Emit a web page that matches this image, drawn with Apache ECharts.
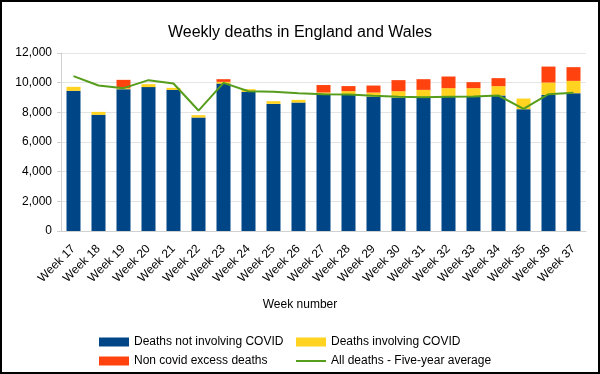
<!DOCTYPE html>
<html>
<head>
<meta charset="utf-8">
<script src="https://cdn.jsdelivr.net/npm/echarts@6/dist/echarts.min.js"></script>
<style>
html,body{margin:0;padding:0;background:#fff;}
#chart{width:600px;height:374px;}
</style>
</head>
<body>
<div id="chart"></div>
<script>
var weeks = ['Week 17','Week 18','Week 19','Week 20','Week 21','Week 22','Week 23','Week 24','Week 25','Week 26','Week 27','Week 28','Week 29','Week 30','Week 31','Week 32','Week 33','Week 34','Week 35','Week 36','Week 37'];
var notCovid = [9450, 7830, 9560, 9700, 9515, 7650, 9945, 9380, 8570, 8660, 9180, 9180, 9065, 9000, 8975, 9045, 9045, 9135, 8215, 9180, 9290];
var covid = [270, 200, 70, 200, 135, 160, 110, 180, 180, 180, 160, 250, 270, 425, 540, 585, 585, 630, 715, 830, 830];
var excess = [0, 0, 560, 0, 0, 0, 180, 0, 0, 0, 500, 340, 470, 745, 720, 785, 405, 540, 0, 1075, 925];
var fiveYearAvg = [10440, 9805, 9630, 10170, 9945, 8120, 9985, 9425, 9380, 9290, 9220, 9200, 9110, 9045, 9020, 9045, 9065, 9135, 8240, 9220, 9315];
var yTicks = {min: 0, max: 12000, step: 2000};

var font = 'Liberation Sans';
var chart = echarts.init(document.getElementById('chart'), null, {renderer: 'canvas'});
function fmt(v){ return String(v).replace(/\B(?=(\d{3})+(?!\d))/g, ','); }
var axisGray = '#d0d0d0';
function legendOf(left, items){
  return {
    orient: 'vertical', left: left, top: 336, height: 38, padding: 0,
    itemWidth: 30, itemHeight: 9, itemGap: 7,
    textStyle: {fontSize: 12, color: '#000', fontFamily: font, lineHeight: 12},
    selectedMode: false, data: items
  };
}
var option = {
  animation: false,
  backgroundColor: '#fff',
  textStyle: {fontFamily: font},
  title: {
    text: 'Weekly deaths in England and Wales', left: 'center', top: 20,
    textStyle: {fontSize: 16, fontWeight: 'normal', color: '#000', fontFamily: font}
  },
  grid: {left: 61, right: 14, top: 53, bottom: 143},
  xAxis: {
    type: 'category', data: weeks,
    axisLine: {lineStyle: {color: axisGray}},
    axisTick: {length: 5, lineStyle: {color: axisGray}},
    axisLabel: {rotate: 45, interval: 0, fontSize: 12, color: '#000', margin: 16, fontFamily: font},
    name: 'Week number', nameLocation: 'middle', nameGap: 68,
    nameTextStyle: {fontSize: 12, color: '#000', fontFamily: font, padding: [0, 47, 0, 0]}
  },
  yAxis: {
    type: 'value', min: yTicks.min, max: yTicks.max, interval: yTicks.step,
    axisLine: {show: true, lineStyle: {color: axisGray}},
    axisTick: {show: true, length: 4, lineStyle: {color: axisGray}},
    splitLine: {lineStyle: {color: '#e4e4e4'}},
    axisLabel: {formatter: fmt, fontSize: 12, color: '#000', margin: 9, fontFamily: font}
  },
  legend: [
    legendOf(99, [
      {name: 'Deaths not involving COVID', icon: 'rect'},
      {name: 'Non covid excess deaths', icon: 'rect'}
    ]),
    legendOf(296, [
      {name: 'Deaths involving COVID', icon: 'rect'},
      {name: 'All deaths - Five-year average', icon: 'path://M0,0 H30 V2 H0 Z', itemStyle: {color: '#579d1c'}}
    ])
  ],
  graphic: [{
    type: 'rect', shape: {x: 1, y: 1, width: 598, height: 372},
    style: {fill: 'none', stroke: '#000', lineWidth: 2}, z: 100, silent: true
  }],
  series: [
    {name: 'Deaths not involving COVID', type: 'bar', stack: 'd', data: notCovid, barWidth: 14, itemStyle: {color: '#004586'}},
    {name: 'Deaths involving COVID', type: 'bar', stack: 'd', data: covid, barWidth: 14, itemStyle: {color: '#ffd320'}},
    {name: 'Non covid excess deaths', type: 'bar', stack: 'd', data: excess, barWidth: 14, itemStyle: {color: '#ff420e'}},
    {name: 'All deaths - Five-year average', type: 'line', data: fiveYearAvg, symbol: 'none', showSymbol: false,
     lineStyle: {color: '#579d1c', width: 2}, itemStyle: {color: '#579d1c'}, z: 5}
  ]
};
chart.setOption(option);
</script>
</body>
</html>
